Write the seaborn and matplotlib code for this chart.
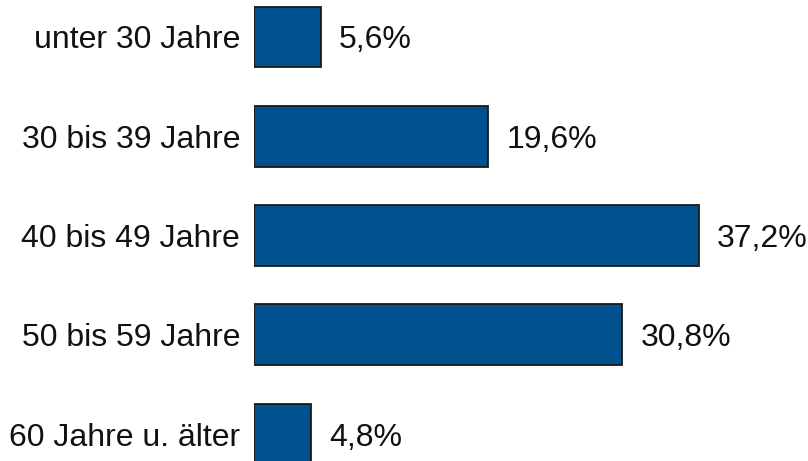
import matplotlib
matplotlib.use("Agg")
import matplotlib.pyplot as plt
import seaborn as sns
import pandas as pd

categories = ["unter 30 Jahre", "30 bis 39 Jahre", "40 bis 49 Jahre", "50 bis 59 Jahre", "60 Jahre u. älter"]
values = [5.6, 19.6, 37.2, 30.8, 4.8]
value_labels = ["5,6%", "19,6%", "37,2%", "30,8%", "4,8%"]

sns.set_style("white")
plt.rcParams['font.family'] = ['Liberation Sans', 'DejaVu Sans']

df = pd.DataFrame({"cat": categories, "val": values})

W, H = 808, 461
fig = plt.figure(figsize=(W / 100, H / 100), dpi=100)
left_px = 254
ax = fig.add_axes([left_px / W, 0, (W - left_px) / W, 1])

sns.barplot(data=df, y="cat", x="val", orient="h", ax=ax, color="#00528F",
            saturation=1, width=0.614, edgecolor="#1a1a1a", linewidth=1.3)

px_per_unit = 11.96
ax.set_xlim(0, (W - left_px) / px_per_unit)
spacing = 99.3
ax.set_ylim((H - 37) / spacing, -37 / spacing)

for i, (v, lab) in enumerate(zip(values, value_labels)):
    ax.annotate(lab, (v, i), xytext=(18, 0), textcoords="offset pixels",
                va="center_baseline", ha="left", fontsize=23, color="#111111")

ax.set_xlabel("")
ax.set_ylabel("")
ax.set_xticks([])
ax.tick_params(axis="y", length=0, pad=10, labelsize=23, labelcolor="#111111")
for s in ax.spines.values():
    s.set_visible(False)

fig.savefig("out.png", dpi=100)
